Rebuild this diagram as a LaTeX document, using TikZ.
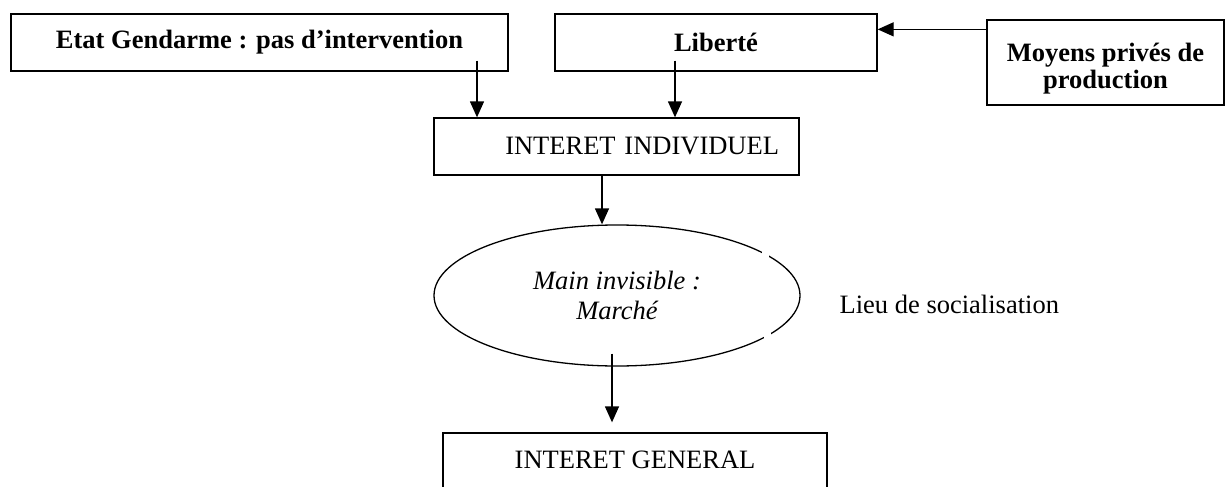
\documentclass[tikz,border=0pt]{standalone}
\usepackage{fontspec}
\setmainfont{Liberation Serif}
\usetikzlibrary{arrows.meta,shapes.geometric}

\begin{document}
\begin{tikzpicture}[x=1pt,y=-1pt,>={Triangle[length=16pt,width=14pt]},line width=1.3pt,
		font=\fontsize{26.5}{30}\selectfont,
		boite/.style={draw,rectangle,inner sep=0pt,minimum height=57pt},
		gras/.style={font=\fontsize{26.5}{27}\selectfont\bfseries},
		penche/.style={font=\fontsize{26.5}{30}\selectfont\itshape}]
	\useasboundingbox (0,0) rectangle (1226,487);
	\clip (0,0) rectangle (1226,487);
	% les trois causes
	\node[boite,gras,minimum width=497pt] (etat) at (259.5,42.5) {Etat Gendarme : pas d’intervention};
	\node[boite,gras,minimum width=322pt] (liberte) at (716,42.5) {Liberté};
	\node[boite,gras,minimum width=237pt,minimum height=85pt,align=center] (moyens) at (1105.5,62.5) {\rule{0pt}{30pt}Moyens privés de\\production};
	% interet individuel -> marche -> interet general
	\node[boite,text width=325pt,inner xsep=20pt,align=right] (indiv) at (616.5,146.5) {INTERET INDIVIDUEL};
	\node[draw,ellipse,penche,minimum width=366pt,minimum height=141pt,inner sep=0pt,align=center] (marche) at (617,295.5) {Main invisible :\\Marché};
	\node[boite,minimum width=384pt,minimum height=70pt,text height=18pt,text depth=18pt] (general) at (635,468) {INTERET GENERAL};
	\node[anchor=base west,inner sep=0pt] (lieu) at (839,313) {Lieu de socialisation};
	% petites coupures du trait de l'ellipse
	\fill[white] (762,249) rectangle (769,259);
	\fill[white] (764,332) rectangle (771,341);
	% fleches
	\draw[->] ([xshift=217.5pt,yshift=11pt]etat.south) -- ([xshift=217.5pt]etat.south |- indiv.north);
	\draw[->] ([xshift=-41pt,yshift=11pt]liberte.south) -- ([xshift=-41pt]liberte.south |- indiv.north);
	\draw[->] ([yshift=-10pt]moyens.north west) -- ([yshift=-10pt]moyens.north west -| liberte.east);
	\draw[->] ([xshift=-14.5pt]indiv.south) -- ([xshift=-14.5pt]indiv.south |- marche.north);
	\draw[->,shorten >=10pt] ([xshift=-5pt,yshift=13pt]marche.south) -- ([xshift=-5pt]marche.south |- general.north);
\end{tikzpicture}
\end{document}
